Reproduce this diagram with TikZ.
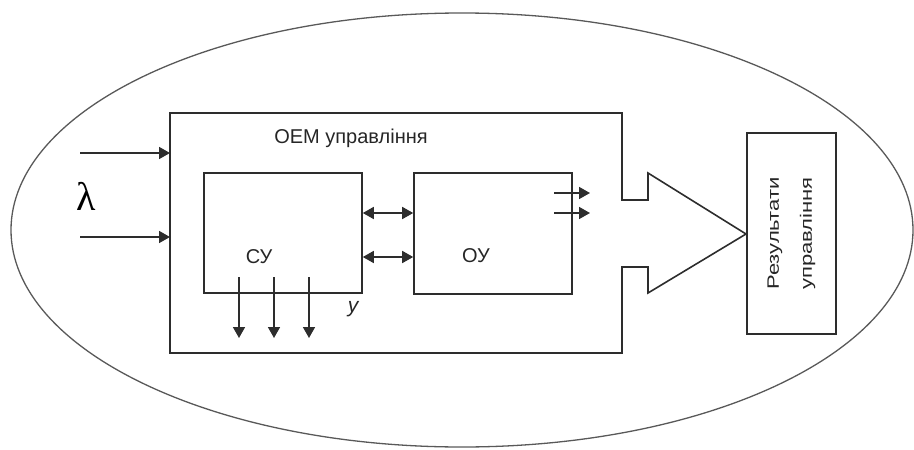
\documentclass[tikz,border=0pt]{standalone}
\usepackage{fontspec}
\setmainfont{Liberation Sans}
\newfontfamily\lamfont{Liberation Serif}
\usetikzlibrary{arrows.meta, calc}
\definecolor{linegray}{RGB}{45,45,45}

\tikzset{
  blk/.style={draw=linegray, line width=1.6pt, inner sep=0pt},
  arr/.style={-{Triangle[length=11pt,width=12pt]}, line width=1.6pt, draw=linegray},
  darr/.style={{Triangle[length=11pt,width=12pt]}-{Triangle[length=11pt,width=12pt]}, line width=1.6pt, draw=linegray},
  lbl/.style={font=\fontsize{20}{24}\selectfont, text=black!85},
}

\begin{document}
\begin{tikzpicture}[x=1pt,y=-1pt]
  \useasboundingbox (0,0) rectangle (914,450);
  % environment
  \draw[draw=black!65, line width=1.3pt] (462,230) ellipse [x radius=451, y radius=217];
  % OEM box with output arrow
  \draw[linegray, line width=1.6pt, line join=miter]
    (170,113) -- (622,113) -- (622,200) -- (648,200) -- (648,173) -- (746,234)
    -- (648,293) -- (648,267) -- (622,267) -- (622,353) -- (170,353) -- cycle;
  \node[lbl] (oem) at (351,138) {ОЕМ управління};
  % inner blocks
  \node[blk, minimum width=158pt, minimum height=120pt] (su) at (283,233) {};
  \node[blk, minimum width=158pt, minimum height=121pt] (ou) at (493,233.5) {};
  \node[lbl] (sulbl) at (259,257) {СУ};
  \node[lbl] (oulbl) at (476,256) {ОУ};
  % result
  \node[blk, minimum width=89pt, minimum height=201pt] (res) at (791.5,233.5) {};
  \node[rotate=90, yscale=0.75, align=center, font=\fontsize{22}{44}\selectfont, text=black!85]
    (reslbl) at (res.center) {Результати\\управління};
  % inputs
  \coordinate (in1) at (80,153);
  \coordinate (in2) at (80,237);
  \draw[arr] (in1) -- (170,153);
  \draw[arr] (in2) -- (170,237);
  \node[font=\lamfont\fontsize{40}{40}\selectfont] (lam) at (86,196) {λ};
  % links
  \draw[darr] (su.east |- 0,213) -- (ou.west |- 0,213);
  \draw[darr] (su.east |- 0,257) -- (ou.west |- 0,257);
  % outputs of OU
  \draw[arr] (554,193) -- (590,193);
  \draw[arr] (554,213) -- (590,213);
  % outputs of SU
  \foreach \x in {239,274,309}
    \draw[arr] (\x,277) -- (\x,338);
  \node[lbl, font=\itshape\fontsize{21}{24}\selectfont] (ylbl) at (353,309) {у};
\end{tikzpicture}
\end{document}
